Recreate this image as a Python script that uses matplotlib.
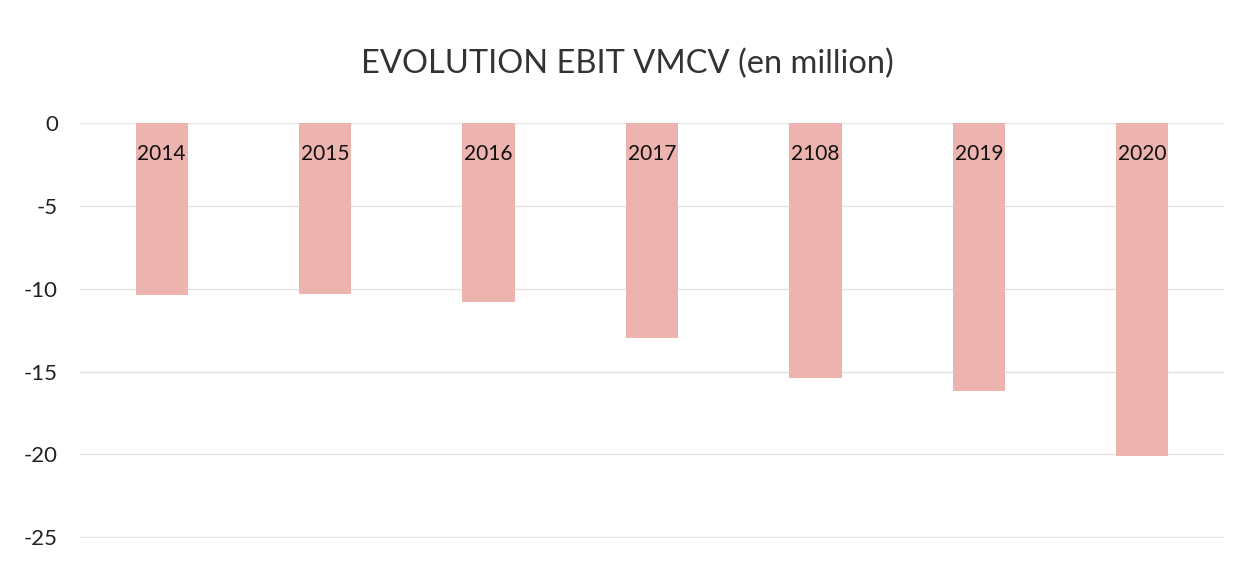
import matplotlib
matplotlib.use("Agg")
import matplotlib.pyplot as plt

categories = ["2014", "2015", "2016", "2017", "2108", "2019", "2020"]
ebit = [-10.4, -10.35, -10.8, -13.0, -15.4, -16.2, -20.1]
yticks = [0, -5, -10, -15, -20, -25]

plt.rcParams['font.family'] = ['Lato', 'DejaVu Sans']

fig = plt.figure(figsize=(12.55, 5.62), dpi=100)
ax = fig.add_axes([80/1255, 1-538/562, (1224-80)/1255, (538-123)/562])

x = list(range(len(categories)))
ax.bar(x, ebit, width=0.32, color="#EDB3AE", zorder=2)
for xi, lab in zip(x, categories):
    ax.text(xi, -1.9, lab, ha="center", va="center", fontsize=15, color="#111111", zorder=3)

ax.set_xlim(-0.5, len(categories) - 0.5)
ax.set_ylim(-25.05, 0)
ax.set_yticks(yticks)
ax.set_yticklabels([str(t) for t in yticks], fontsize=16, color="#222222")
ax.set_xticks([])
ax.tick_params(axis="y", length=0, pad=16)
ax.yaxis.grid(True, color="#e4e4e4", linewidth=1)
ax.set_axisbelow(True)
for s in ax.spines.values():
    s.set_visible(False)
ax.patch.set_alpha(0)

fig.text(0.5, 1-64/562, "EVOLUTION EBIT VMCV (en million)", ha="center", va="center",
         fontsize=23.5, color="#333333")

fig.savefig("out.png", dpi=100, facecolor="white")
